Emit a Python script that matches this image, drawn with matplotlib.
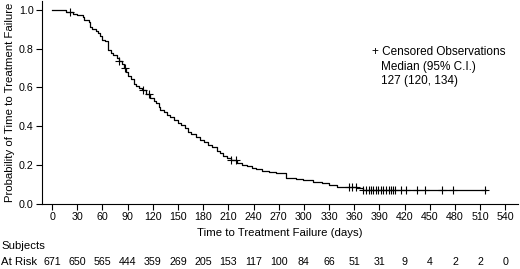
import numpy as np
import matplotlib
matplotlib.use("Agg")
import matplotlib.pyplot as plt

plt.rcParams['font.family'] = ['Liberation Sans', 'DejaVu Sans']

# Kaplan-Meier step data (time in days, survival after the step)
step_times = [0, 17, 25, 30, 37, 38, 44, 45, 48, 52, 55, 57, 59, 63, 67, 70, 73, 77, 80, 83,
              86, 88, 91, 94, 97, 100, 104, 107, 112, 117, 121, 124, 127, 129, 133, 137, 141,
              145, 150, 154, 158, 162, 166, 171, 176, 181, 186, 191, 196, 200, 204, 208, 213,
              220, 226, 232, 238, 243, 250, 258, 267, 279, 290, 299, 311, 322, 330, 339, 363, 370]
step_surv = [1.0, 0.987, 0.978, 0.972, 0.962, 0.945, 0.935, 0.912, 0.903, 0.892, 0.878, 0.866,
             0.846, 0.838, 0.792, 0.778, 0.765, 0.752, 0.738, 0.722, 0.700, 0.680, 0.660, 0.642,
             0.620, 0.608, 0.595, 0.585, 0.568, 0.548, 0.532, 0.518, 0.500, 0.483, 0.472, 0.458,
             0.446, 0.432, 0.418, 0.405, 0.390, 0.372, 0.360, 0.347, 0.330, 0.318, 0.305, 0.292,
             0.275, 0.262, 0.248, 0.236, 0.225, 0.212, 0.202, 0.194, 0.186, 0.178, 0.171, 0.165,
             0.158, 0.134, 0.128, 0.122, 0.114, 0.108, 0.100, 0.087, 0.080, 0.073]
end_time = 517

censor_times = [21, 80, 87, 108, 115, 213, 219, 354, 357.5, 362.5, 370.6, 373.8, 377, 379.8,
                382.5, 385.7, 388.5, 391.3, 394.4, 397.6, 400.8, 403.6, 406.3, 408.3, 415.5,
                421, 434.9, 444.8, 464.7, 477.4, 516]

risk_times = list(range(0, 541, 30))
at_risk = [671, 650, 565, 444, 359, 269, 205, 153, 117, 100, 84, 66, 51, 31, 9, 4, 2, 2, 0]

fig = plt.figure(figsize=(5.2, 2.69), dpi=100)
ax = fig.add_axes([42/520, 1-204/269, (518-42)/520, (204-1)/269])

xs = list(step_times) + [end_time]
ys = list(step_surv) + [step_surv[-1]]
ax.step(xs, ys, where='post', color='black', lw=0.9)

idx = np.searchsorted(step_times, censor_times, side='right') - 1
cens_y = np.array(step_surv)[idx]
ax.plot(censor_times, cens_y, linestyle='none', marker='+', color='black',
        markersize=6, markeredgewidth=0.8)

ax.set_xlim(-12, 555)
ax.set_ylim(0, 1.045)
ax.set_xticks(risk_times)
ax.set_yticks([0.0, 0.2, 0.4, 0.6, 0.8, 1.0])
ax.set_yticklabels(['0.0', '0.2', '0.4', '0.6', '0.8', '1.0'])
ax.spines['top'].set_visible(False)
ax.spines['right'].set_visible(False)
for s in ('left', 'bottom'):
    ax.spines[s].set_linewidth(0.8)
ax.tick_params(axis='both', labelsize=7.7, length=4, width=0.8, pad=2, colors='black')
ax.set_xlabel('Time to Treatment Failure (days)', fontsize=8.2, labelpad=4)
ax.set_ylabel('Probability of Time to Treatment Failure', fontsize=8.2, labelpad=3)

ax.text(0.693, 0.749, '+ Censored Observations', transform=ax.transAxes, fontsize=8.5,
        va='center', ha='left')
ax.text(0.712, 0.675, 'Median (95% C.I.)', transform=ax.transAxes, fontsize=8.5,
        va='center', ha='left')
ax.text(0.712, 0.606, '127 (120, 134)', transform=ax.transAxes, fontsize=8.5,
        va='center', ha='left')

fig.text(1/520, 1-246/269, 'Subjects', fontsize=8.2, va='center', ha='left')
fig.text(1/520, 1-262/269, 'At Risk', fontsize=8.2, va='center', ha='left')
trans = matplotlib.transforms.blended_transform_factory(ax.transData, fig.transFigure)
for t, n in zip(risk_times, at_risk):
    ax.text(t, 1-262/269, str(n), transform=trans, fontsize=7.7, ha='center', va='center',
            clip_on=False)

fig.savefig('out.png', dpi=100)
